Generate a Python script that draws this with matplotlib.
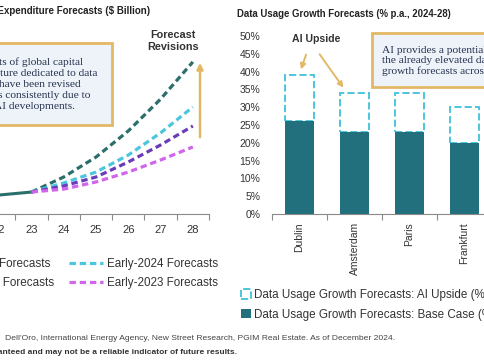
import matplotlib
matplotlib.use('Agg')
import matplotlib.pyplot as plt
from matplotlib.patches import Rectangle, FancyArrowPatch
import numpy as np

plt.rcParams['font.family'] = ['Liberation Sans', 'DejaVu Sans']

# capex forecasts ($ billion)
years_hist = [21, 22, 23]
capex_hist = [186, 196, 211]
years_fc = [23, 24, 25, 26, 27, 28]
fc_mid24 = [211, 287, 388, 520, 681, 869]
fc_early24 = [211, 257, 312, 398, 510, 641]
fc_late23 = [211, 242, 287, 363, 449, 545]
fc_early23 = [211, 226, 262, 312, 373, 439]
year_labels = [19, 20, 21, 22, 23, 24, 25, 26, 27, 28]

# data usage growth (% p.a.)
cities = ['Dublin', 'Amsterdam', 'Paris', 'Frankfurt']
base_case = [26, 23, 23, 20]
ai_upside = [39, 34, 34, 30]

W, H = 485, 360


def fx(x):
    return x / W


def fy(y):
    return 1 - y / H


teal_dark = '#2b6f6c'
cyan = '#4cc6de'
purple = '#6a3db8'
magenta = '#d066ea'
bar_teal = '#22707e'
gold = '#e2b865'
axis_grey = '#8a8a8a'

fig = plt.figure(figsize=(4.85, 3.6), dpi=100)

# ---- left chart
ax1 = fig.add_axes([fx(-113.8), fy(214), (209 + 113.8) / W, 178 / H])
ax1.plot(years_hist, capex_hist, color=teal_dark, lw=2.2)
dash = (0, (2.0, 1.2))
l1, = ax1.plot(years_fc, fc_mid24, color=teal_dark, lw=2.3, ls=dash, label='Mid-2024 Forecasts')
l2, = ax1.plot(years_fc, fc_early24, color=cyan, lw=2.3, ls=dash, label='Early-2024 Forecasts')
l3, = ax1.plot(years_fc, fc_late23, color=purple, lw=2.3, ls=dash, label='Late-2023 Forecasts')
l4, = ax1.plot(years_fc, fc_early23, color=magenta, lw=2.3, ls=dash, label='Early-2023 Forecasts')
ax1.set_xlim(18.5, 28.5)
ax1.set_ylim(100, 1000)
for s in ['top', 'right', 'left']:
    ax1.spines[s].set_visible(False)
ax1.spines['bottom'].set_color(axis_grey)
ax1.set_yticks([])
ax1.set_xticks(np.arange(18.5, 29, 1))
ax1.set_xticks(year_labels, minor=True)
ax1.set_xticklabels([str(y) for y in year_labels], minor=True)
ax1.tick_params(axis='x', which='major', length=4, color=axis_grey, labelbottom=False)
ax1.tick_params(axis='x', which='minor', length=0, pad=8, labelsize=8, labelcolor='#333333')

fig.legend(handles=[l1, l3, l2, l4], ncol=2, loc='upper right',
           bbox_to_anchor=(fx(218), fy(258)), frameon=False, fontsize=8.4,
           borderpad=0, borderaxespad=0, handlelength=2.9, handletextpad=0.35,
           columnspacing=1.3, labelspacing=0.6, labelcolor='#333333')

fig.text(fx(150), fy(11), 'Global Data Center Capital Expenditure Forecasts ($ Billion)',
         ha='right', va='center', fontsize=7, fontweight='bold', color='#222222')

# note box, left
fig.patches.append(Rectangle((fx(-40), fy(125)), fx(112 + 40), (125 - 43) / H,
                             transform=fig.transFigure, facecolor='#edf3f9',
                             edgecolor=gold, lw=2))
fig.text(fx(97), fy(84), 'Forecasts of global capital\nexpenditure dedicated to data\n'
         'centers have been revised\nupwards consistently due to\nrecent AI developments.',
         ha='right', va='center', multialignment='left', fontsize=8.2,
         family='Liberation Serif', color='#27324f', linespacing=1.27)

fig.text(fx(173), fy(41), 'Forecast\nRevisions', ha='center', va='center',
         fontsize=7.8, fontweight='bold', color='#333333', linespacing=1.25)
fig.patches.append(FancyArrowPatch((fx(200), fy(140)), (fx(200), fy(60)),
                                   transform=fig.transFigure, arrowstyle='-|>',
                                   mutation_scale=9, color=gold, lw=1.8))

# ---- right chart
xc = np.arange(len(cities))
ax2 = fig.add_axes([fx(272), fy(214), 275 / W, 178 / H])
upside = [u - b for u, b in zip(ai_upside, base_case)]
b2 = ax2.bar(xc, upside, bottom=base_case, width=0.53, facecolor='white',
             edgecolor=cyan, ls='--', lw=1.4,
             label='Data Usage Growth Forecasts: AI Upside (%)')
b1 = ax2.bar(xc, base_case, width=0.53, color=bar_teal,
             label='Data Usage Growth Forecasts: Base Case (%)')
ax2.set_xlim(-0.5, 4.5)
ax2.set_ylim(0, 50)
for s in ['top', 'right', 'left']:
    ax2.spines[s].set_visible(False)
ax2.spines['bottom'].set_color(axis_grey)
ax2.set_yticks(np.arange(0, 51, 5))
ax2.set_yticklabels([f'{v}%' for v in range(0, 51, 5)])
ax2.tick_params(axis='y', length=0, pad=8.5, labelsize=7.5, labelcolor='#333333')
ax2.set_xticks(np.arange(-0.5, 5, 1))
ax2.set_xticks(xc, minor=True)
ax2.set_xticklabels(cities, minor=True, rotation=90)
ax2.tick_params(axis='x', which='major', length=4, color=axis_grey, labelbottom=False)
ax2.tick_params(axis='x', which='minor', length=0, pad=6, labelsize=7.5, labelcolor='#333333')

fig.legend(handles=[b2, b1], loc='upper left', bbox_to_anchor=(fx(241), fy(289)),
           frameon=False, fontsize=8.4, borderpad=0, borderaxespad=0,
           handlelength=0.85, handleheight=0.85, handletextpad=0.25,
           labelspacing=0.65, labelcolor='#333333')

fig.text(fx(237), fy(14), 'Data Usage Growth Forecasts (% p.a., 2024-28)',
         ha='left', va='center', fontsize=6.9, fontweight='bold', color='#222222')

fig.text(fx(316), fy(39), 'AI Upside', ha='center', va='center',
         fontsize=7.6, fontweight='bold', color='#333333')
fig.patches.append(FancyArrowPatch((fx(307), fy(52)), (fx(300), fy(72)),
                                   transform=fig.transFigure, arrowstyle='-|>',
                                   mutation_scale=8, color=gold, lw=1.4))
fig.patches.append(FancyArrowPatch((fx(318), fy(52)), (fx(345), fy(90)),
                                   transform=fig.transFigure, arrowstyle='-|>',
                                   mutation_scale=8, color=gold, lw=1.4))

# note box, right
fig.patches.append(Rectangle((fx(372), fy(87)), fx(160), (87 - 33) / H,
                             transform=fig.transFigure, facecolor='#edf3f9',
                             edgecolor=gold, lw=2))
fig.text(fx(382), fy(61), 'AI provides a potential upside to\nthe already elevated data usage\n'
         'growth forecasts across markets.', ha='left', va='center', fontsize=8.2,
         family='Liberation Serif', color='#27324f', linespacing=1.2)

# footer
fig.text(fx(3), fy(338), 'Source: Synergy Research Group, ', ha='right', va='center',
         fontsize=6.1, color='#444444')
fig.text(fx(5), fy(338), "Dell'Oro, International Energy Agency, New Street Research, "
         'PGIM Real Estate. As of December 2024.', ha='left', va='center',
         fontsize=6.1, color='#444444')
fig.text(fx(237), fy(352), 'Past performance is not guaranteed and may not be a reliable '
         'indicator of future results.', ha='right', va='center', fontsize=6,
         fontweight='bold', color='#333333')

fig.savefig('out.png', dpi=100)
